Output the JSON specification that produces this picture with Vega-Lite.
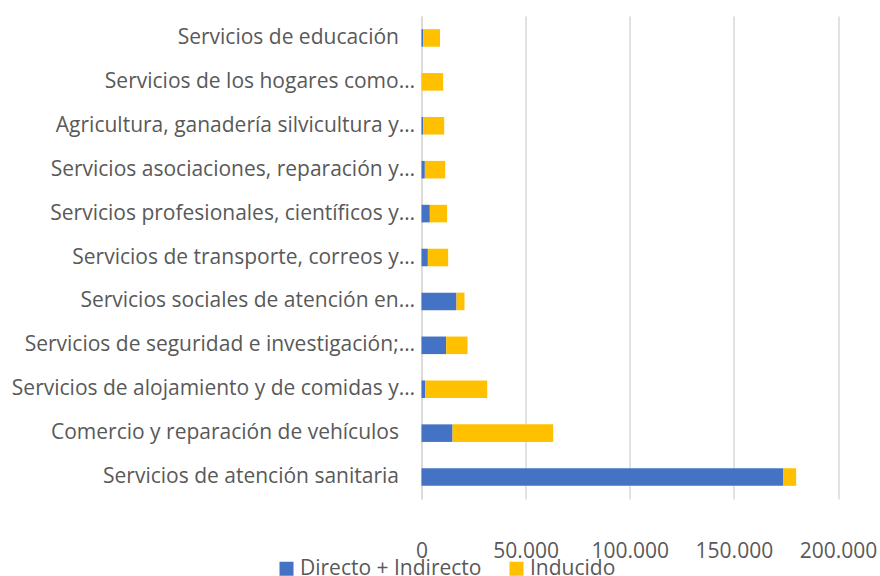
{
  "$schema": "https://vega.github.io/schema/vega-lite/v6.json",
  "width": 416.5,
  "height": 483,
  "autosize": {"type": "none"},
  "padding": {"left": 421.5, "top": 16, "right": 42, "bottom": 77},
  "background": "white",
  "config": {
    "view": {"stroke": null},
    "font": "Open Sans",
    "axis": {"labelFont": "Open Sans", "labelColor": "#595959", "labelFontSize": 21},
    "legend": {"labelFont": "Open Sans", "labelColor": "#595959", "labelFontSize": 21}
  },
  "data": {
    "values": [
      {"sector": "Servicios de educación", "tipo": "Directo + Indirecto", "valor": 800, "orden": 1},
      {"sector": "Servicios de educación", "tipo": "Inducido", "valor": 8100, "orden": 2},
      {"sector": "Servicios de los hogares como…", "tipo": "Directo + Indirecto", "valor": 0, "orden": 1},
      {"sector": "Servicios de los hogares como…", "tipo": "Inducido", "valor": 10400, "orden": 2},
      {"sector": "Agricultura, ganadería silvicultura y…", "tipo": "Directo + Indirecto", "valor": 800, "orden": 1},
      {"sector": "Agricultura, ganadería silvicultura y…", "tipo": "Inducido", "valor": 10100, "orden": 2},
      {"sector": "Servicios asociaciones, reparación y…", "tipo": "Directo + Indirecto", "valor": 1600, "orden": 1},
      {"sector": "Servicios asociaciones, reparación y…", "tipo": "Inducido", "valor": 9800, "orden": 2},
      {"sector": "Servicios profesionales, científicos y…", "tipo": "Directo + Indirecto", "valor": 4000, "orden": 1},
      {"sector": "Servicios profesionales, científicos y…", "tipo": "Inducido", "valor": 8300, "orden": 2},
      {"sector": "Servicios de transporte, correos y…", "tipo": "Directo + Indirecto", "valor": 3050, "orden": 1},
      {"sector": "Servicios de transporte, correos y…", "tipo": "Inducido", "valor": 9750, "orden": 2},
      {"sector": "Servicios sociales de atención en…", "tipo": "Directo + Indirecto", "valor": 16800, "orden": 1},
      {"sector": "Servicios sociales de atención en…", "tipo": "Inducido", "valor": 3850, "orden": 2},
      {"sector": "Servicios de seguridad e investigación;…", "tipo": "Directo + Indirecto", "valor": 11850, "orden": 1},
      {"sector": "Servicios de seguridad e investigación;…", "tipo": "Inducido", "valor": 10250, "orden": 2},
      {"sector": "Servicios de alojamiento y de comidas y…", "tipo": "Directo + Indirecto", "valor": 1750, "orden": 1},
      {"sector": "Servicios de alojamiento y de comidas y…", "tipo": "Inducido", "valor": 29800, "orden": 2},
      {"sector": "Comercio y reparación de vehículos", "tipo": "Directo + Indirecto", "valor": 14900, "orden": 1},
      {"sector": "Comercio y reparación de vehículos", "tipo": "Inducido", "valor": 48350, "orden": 2},
      {"sector": "Servicios de atención sanitaria", "tipo": "Directo + Indirecto", "valor": 173800, "orden": 1},
      {"sector": "Servicios de atención sanitaria", "tipo": "Inducido", "valor": 6100, "orden": 2}
    ]
  },
  "mark": {"type": "bar"},
  "encoding": {
    "y": {
      "field": "sector", "type": "nominal", "sort": null,
      "scale": {"paddingInner": 0.6, "paddingOuter": 0.3},
      "axis": {"title": null, "ticks": false, "domainColor": "#d9d9d9", "domainWidth": 1.5, "labelLimit": 440,
        "labelPadding": {"condition": {"test": "indexof(datum.value, '…') < 0", "value": 23}, "value": 7}}
    },
    "x": {
      "field": "valor", "type": "quantitative", "aggregate": "sum",
      "scale": {"domain": [0, 200000], "nice": false},
      "axis": {"title": null, "values": [0, 50000, 100000, 150000, 200000], "format": ",.0f", "labelExpr": "replace(datum.label, /,/g, '.')", "domain": false, "ticks": false, "grid": true, "gridColor": "#d9d9d9", "gridWidth": 1.5, "labelPadding": 41, "labelFlush": false}
    },
    "color": {
      "field": "tipo", "type": "nominal",
      "scale": {"domain": ["Directo + Indirecto", "Inducido"], "range": ["#4472C4", "#FFC000"]},
      "legend": {"title": null, "orient": "none", "direction": "horizontal", "legendX": -145.5, "legendY": 542, "symbolType": "square", "symbolSize": 196, "symbolStrokeWidth": 0, "columnPadding": 24, "labelOffset": 3, "labelLimit": 300}
    },
    "order": {"field": "orden"}
  }
}
